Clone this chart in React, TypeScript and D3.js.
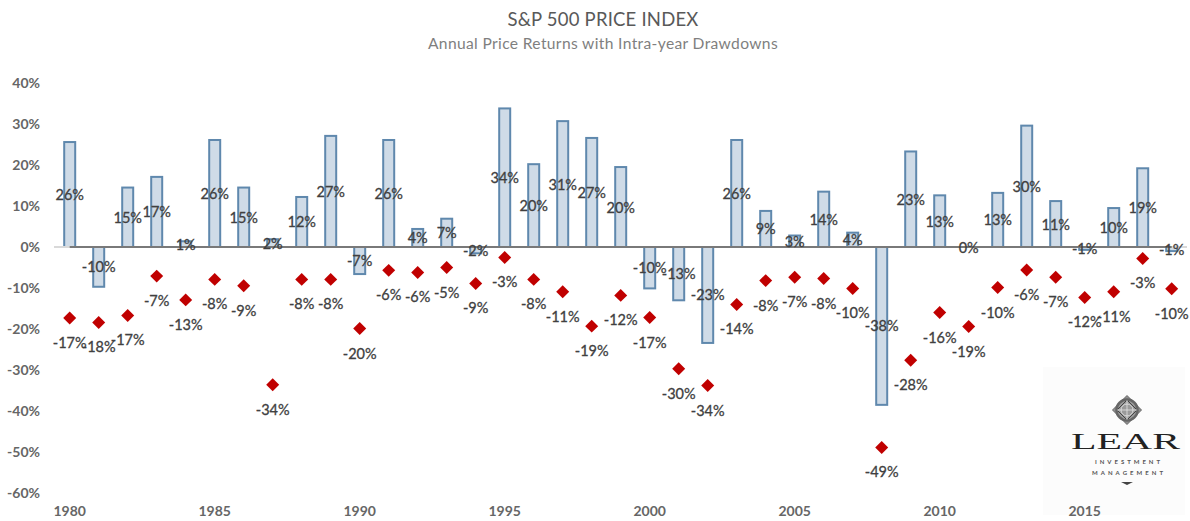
import React from "react";
import * as d3 from "d3";

const years = d3.range(1980, 2019);
const returns = [
	25.6, -9.7, 14.5, 17.1, 1.4, 26.1, 14.5, 1.9, 12.2, 27.1, -6.6, 26.1, 4.4, 6.9, -1.54, 33.8, 20.2, 30.7, 26.6, 19.5,
	-10.1, -13.0, -23.4, 26.1, 8.8, 2.8, 13.5, 3.5, -38.5, 23.3, 12.6, 0.0, 13.2, 29.6, 11.2, -0.7, 9.5, 19.2, -1.0,
];
const drawdowns = [
	-17.3, -18.4, -16.7, -7.1, -12.9, -7.9, -9.45, -33.6, -7.9, -7.9, -19.9, -5.7, -6.2, -5.0, -8.9, -2.55, -7.9, -10.9,
	-19.3, -11.8, -17.2, -29.7, -33.8, -14.0, -8.2, -7.4, -7.7, -10.1, -48.9, -27.6, -16.0, -19.4, -9.9, -5.6, -7.4,
	-12.3, -10.9, -2.8, -10.2,
];
const yTicks = [40, 30, 20, 10, 0, -10, -20, -30, -40, -50, -60];
const xTicks = [1980, 1985, 1990, 1995, 2000, 2005, 2010, 2015];

const font = "Lato, 'Open Sans', sans-serif";
const gray = "#595959";

const x = d3.scaleLinear().domain([1980, 2018]).range([69.7, 1171.7]);
const y = d3.scaleLinear().domain([40, -60]).range([83, 493]);
const fmt = (v: number) => `${Math.round(v)}%`;

const diamond = d3.symbol().type(d3.symbolSquare).size(84)() as string;

const App: React.FC = () => {
	return (
		<svg
			width={1190}
			height={521}
			style={{ position: "absolute", left: 0, top: 0, background: "#fff" }}
			fontFamily={font}
		>
			{/* logo background sits under the axis labels */}
			<rect x={1043} y={367} width={142} height={148} fill="#fcfcfc" />

			<text x={603} y={26} textAnchor="middle" fontSize={18.5} fill={gray} letterSpacing={0.2}>
				S&amp;P 500 PRICE INDEX
			</text>
			<text x={603} y={49} textAnchor="middle" fontSize={15.6} fill="#7f7f7f" letterSpacing={0.35}>
				Annual Price Returns with Intra-year Drawdowns
			</text>

			{yTicks.map((t) => (
				<text key={t} x={40} y={y(t) + 5} textAnchor="end" fontSize={14} fontWeight={700} fill="#666">
					{t}%
				</text>
			))}
			{xTicks.map((t) => (
				<text key={t} x={x(t)} y={516} textAnchor="middle" fontSize={14} fontWeight={700} fill="#666">
					{t}
				</text>
			))}

			{returns.map((v, i) => (
				<rect
					key={years[i]}
					x={x(years[i]) - 5.5}
					y={Math.min(y(v), y(0))}
					width={11}
					height={Math.abs(y(v) - y(0))}
					fill="#cfdbe7"
					stroke="#5f88ad"
					strokeWidth={2}
				/>
			))}
			<line x1={54} x2={1187} y1={y(0)} y2={y(0)} stroke="#d9d9d9" strokeWidth={2} />
			<line x1={x(1980)} x2={x(2018)} y1={y(0)} y2={y(0)} stroke={gray} strokeWidth={1.5} />

			{drawdowns.map((v, i) => (
				<path
					key={years[i]}
					d={diamond}
					transform={`translate(${x(years[i])},${y(v)}) rotate(45)`}
					fill="#c00000"
				/>
			))}

			{returns.map((v, i) => (
				<text
					key={years[i]}
					x={x(years[i])}
					y={(y(v) + y(0)) / 2 + 5.5}
					textAnchor="middle"
					fontSize={14.5}
					fill="#404040"
					stroke="#404040"
					strokeWidth={0.3}
				>
					{fmt(v)}
				</text>
			))}
			{drawdowns.map((v, i) => (
				<text
					key={years[i]}
					x={x(years[i])}
					y={y(v) + 30}
					textAnchor="middle"
					fontSize={14.5}
					fill="#404040"
					stroke="#404040"
					strokeWidth={0.3}
				>
					{fmt(v)}
				</text>
			))}

			{/* logo */}
			<g transform="translate(1127,410)" fill="none" stroke="#666">
				<path d="M0,-14.5L14.5,0L0,14.5L-14.5,0Z" fill="#8f8f8f" strokeWidth={1} />
				<circle r={10.5} strokeWidth={2.5} fill="#9a9a9a" />
				<circle r={6} strokeWidth={1} stroke="#d8d8d8" />
				<path d="M0,-10L10,0L0,10L-10,0Z" strokeWidth={1} stroke="#444" />
				<path d="M0,-10V10M-10,0H10" strokeWidth={0.8} stroke="#e4e4e4" />
			</g>
			<text
				x={1125.5}
				y={449}
				textAnchor="middle"
				fontSize={24}
				fontFamily="'Liberation Serif', serif"
				fill="#222"
				textLength={109}
				lengthAdjust="spacingAndGlyphs"
			>
				LEAR
			</text>
			<text x={1127.5} y={464} textAnchor="middle" fontSize={6} fontWeight={700} fill="#555" textLength={65}>
				INVESTMENT
			</text>
			<text x={1127.5} y={474.5} textAnchor="middle" fontSize={6} fontWeight={700} fill="#555" textLength={71}>
				MANAGEMENT
			</text>
			<path d="M1121,482L1133,482L1127,485Z" fill="#444" />
		</svg>
	);
};

export default App;
